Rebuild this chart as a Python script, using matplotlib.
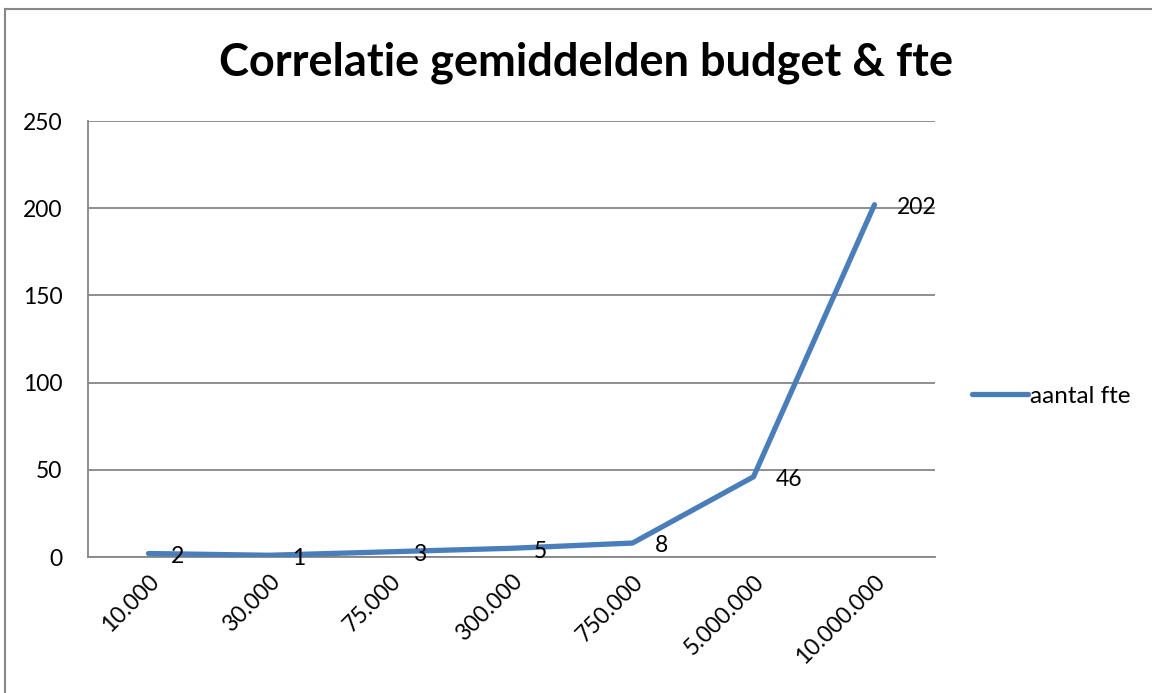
import matplotlib.pyplot as plt
from matplotlib.lines import Line2D

# Data
budgets = ["10.000", "30.000", "75.000", "300.000", "750.000", "5.000.000", "10.000.000"]
fte = [2, 1, 3, 5, 8, 46, 202]
series_name = "aantal fte"
y_ticks = [0, 50, 100, 150, 200, 250]


def main():
    plt.rcParams["font.family"] = ["Lato", "DejaVu Sans"]

    fig = plt.figure(figsize=(11.52, 6.93), dpi=100)
    ax = fig.add_axes([88 / 1152, 1 - 557 / 693, (935 - 88) / 1152, (557 - 121) / 693])

    x = list(range(len(budgets)))
    line_color = "#4A7EBB"
    ax.plot(x, fte, color=line_color, linewidth=3.8, solid_capstyle="round",
            solid_joinstyle="round", label=series_name, zorder=3)

    # Data labels to the right of each point
    for xi, yi in zip(x, fte):
        ax.annotate(f"{yi:g}", (xi, yi), xytext=(16, -2), textcoords="offset points",
                    ha="left", va="center", fontsize=16.5, zorder=4)

    ax.set_xlim(-0.5, len(budgets) - 0.5)
    ax.set_ylim(0, 250)
    ax.set_yticks(y_ticks)
    ax.set_xticks(x)
    ax.set_xticklabels(budgets, rotation=45, ha="right", rotation_mode="anchor")
    ax.tick_params(axis="both", length=0, labelsize=16.5)
    ax.tick_params(axis="y", pad=18.5)
    ax.tick_params(axis="x", pad=10)

    ax.grid(axis="y", color="#868686", linewidth=1.3)
    ax.set_axisbelow(True)
    for side in ["top", "right"]:
        ax.spines[side].set_visible(False)
    for side in ["left", "bottom"]:
        ax.spines[side].set_color("#868686")
        ax.spines[side].set_linewidth(1.3)

    fig.text(0.509, 1 - 76 / 693, "Correlatie gemiddelden budget & fte",
             ha="center", va="baseline", fontsize=32.5, fontweight="bold")

    fig.legend(handles=[Line2D([0], [0], color=line_color, linewidth=3.8,
                               solid_capstyle="round")],
               labels=[series_name], loc="center left",
               bbox_to_anchor=(972 / 1152, 1 - 396 / 693), frameon=False,
               fontsize=17.5, handlelength=2.3, handletextpad=0.1,
               borderpad=0, borderaxespad=0)

    # Chart border (only top and left edges visible in the reference)
    fig.add_artist(Line2D([5 / 1152, 5 / 1152], [0, 1 - 9 / 693],
                          transform=fig.transFigure, color="#878787", linewidth=1.5))
    fig.add_artist(Line2D([5 / 1152, 1], [1 - 9 / 693, 1 - 9 / 693],
                          transform=fig.transFigure, color="#878787", linewidth=1.5))

    fig.savefig("out.png", dpi=100)
    plt.close(fig)


if __name__ == "__main__":
    main()
